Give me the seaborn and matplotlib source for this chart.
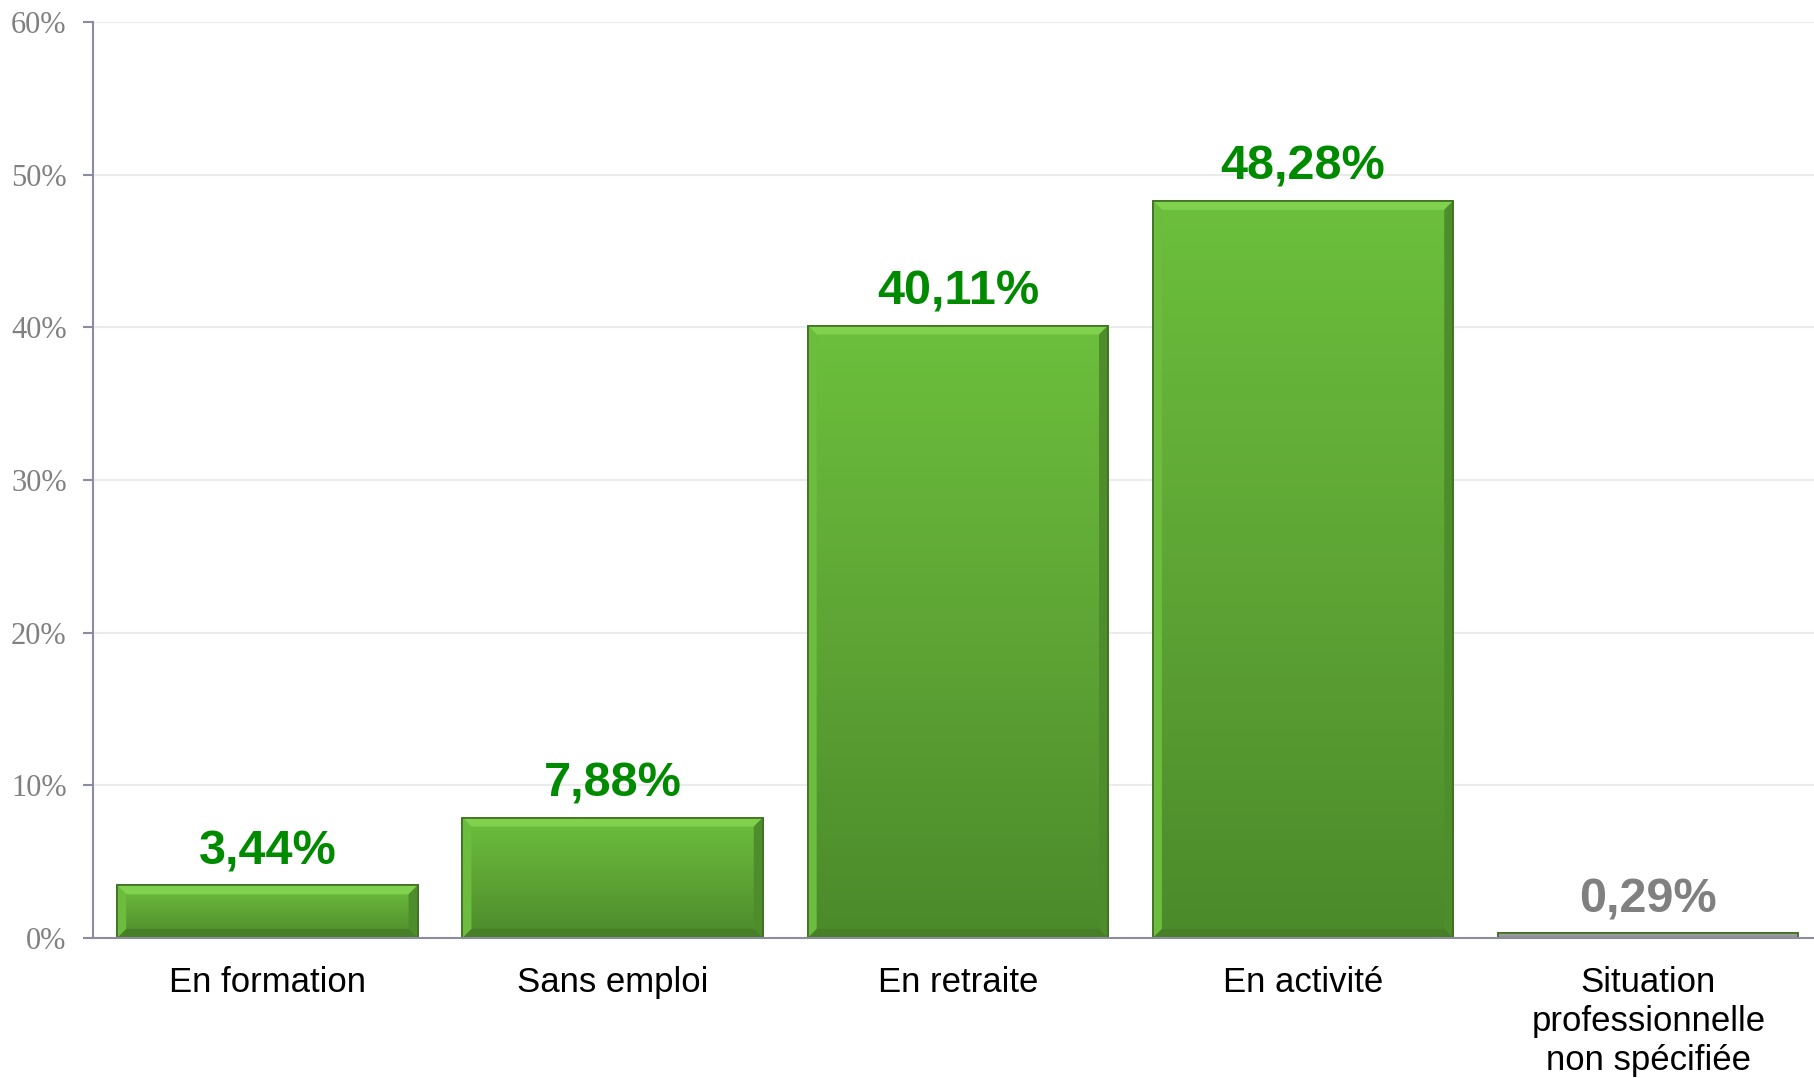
import numpy as np
import pandas as pd
import seaborn as sns
import matplotlib.pyplot as plt
from matplotlib.colors import LinearSegmentedColormap
from matplotlib.patches import Polygon

# Data
categories = ["En formation", "Sans emploi", "En retraite", "En activité",
              "Situation\nprofessionnelle\nnon spécifiée"]
values = [3.44, 7.88, 40.11, 48.28, 0.29]
labels = ["3,44%", "7,88%", "40,11%", "48,28%", "0,29%"]
label_colors = ["#008a00", "#008a00", "#008a00", "#008a00", "#808080"]

df = pd.DataFrame({"cat": categories, "val": values})

sns.set_style("white")
plt.rcParams['font.family'] = ['Liberation Sans', 'DejaVu Sans']

fig = plt.figure(figsize=(18.14, 10.78), dpi=100)
ax = fig.add_axes([0.0513, 0.130, 0.9487, 0.8497])

sns.barplot(data=df, x="cat", y="val", color="#62b436", width=0.87,
            edgecolor="#3f6e22", linewidth=1.2, ax=ax, zorder=3)

green_cmap = LinearSegmentedColormap.from_list("g", ["#4b8a2a", "#5ea535", "#6cbf3c"])
gray_cmap = LinearSegmentedColormap.from_list("gr", ["#8c8c8c", "#a6a6a6"])
grad = np.linspace(0, 1, 256).reshape(-1, 1)

# pixel -> data unit sizes for the bevel
bx = 9 / 345.0
by = 9 * 60 / 916.0

for i, p in enumerate(ax.patches):
    x0, y0 = p.get_x(), p.get_y()
    w, h = p.get_width(), p.get_height()
    x1, y1 = x0 + w, y0 + h
    cmap = gray_cmap if i == 4 else green_cmap
    im = ax.imshow(grad, extent=[x0, x1, y0, y1], origin="lower", aspect="auto",
                   cmap=cmap, zorder=3.1)
    im.set_clip_path(p)
    if h > 3 * by:
        # bevel faces
        top = Polygon([(x0, y1), (x1, y1), (x1 - bx, y1 - by), (x0 + bx, y1 - by)],
                      closed=True, facecolor="#7fd14e", edgecolor="none", zorder=3.2)
        right = Polygon([(x1, y1), (x1, y0), (x1 - bx, y0 + by), (x1 - bx, y1 - by)],
                        closed=True, facecolor="#4e8d2c", edgecolor="none", zorder=3.2)
        bottom = Polygon([(x0, y0), (x1, y0), (x1 - bx, y0 + by), (x0 + bx, y0 + by)],
                         closed=True, facecolor="#467f27", edgecolor="none", zorder=3.2)
        left = Polygon([(x0, y0), (x0, y1), (x0 + bx, y1 - by), (x0 + bx, y0 + by)],
                       closed=True, facecolor="#6cbc3e", edgecolor="none", zorder=3.2)
        for poly in (top, right, bottom, left):
            ax.add_patch(poly)
    # redraw outline on top
    ax.add_patch(plt.Rectangle((x0, y0), w, h, fill=False, edgecolor="#3f6e22",
                               linewidth=1.2, zorder=3.3))
    ax.annotate(labels[i], (x0 + w / 2, y1), xytext=(0, 8), textcoords="offset points",
                ha="center", va="bottom", fontsize=35, fontweight="bold",
                color=label_colors[i], zorder=4)

ax.set_xlim(-0.505, 4.48)
ax.set_ylim(0, 60)
ax.set_yticks(range(0, 61, 10))
ax.set_yticklabels([f"{v}%" for v in range(0, 61, 10)])
ax.set_xlabel("")
ax.set_ylabel("")
ax.grid(axis="y", color="#ebebeb", linewidth=1.5, zorder=0)
ax.set_axisbelow(True)

for s in ["top", "right"]:
    ax.spines[s].set_visible(False)
ax.spines["left"].set_color("#8c8ca0")
ax.spines["left"].set_linewidth(1.5)
ax.spines["bottom"].set_color("#8c8c9c")
ax.spines["bottom"].set_linewidth(1.5)
ax.spines["bottom"].set_zorder(5)

ax.tick_params(axis="y", length=7, width=1.5, color="#8c8ca0", pad=12, left=True,
               labelsize=22, labelcolor="#808080")
ax.tick_params(axis="x", length=0, pad=20, labelsize=25, labelcolor="black")
for t in ax.get_yticklabels():
    t.set_family(["Liberation Serif", "DejaVu Serif"])
for t in ax.get_xticklabels():
    t.set_linespacing(1.23)

fig.savefig("out.png", dpi=100)
